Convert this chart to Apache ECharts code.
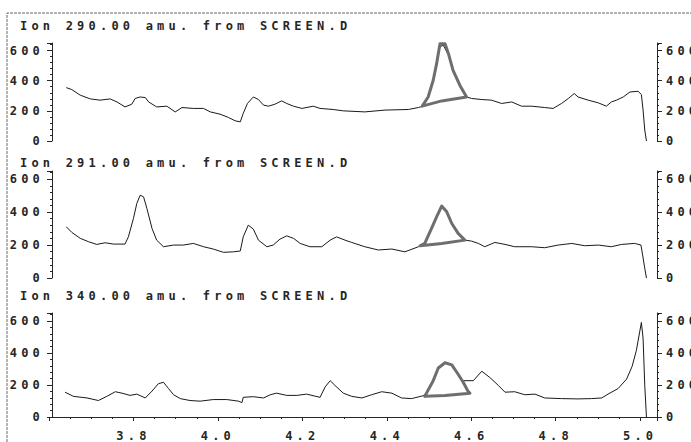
<!DOCTYPE html>
<html>
<head>
<meta charset="utf-8">
<script src="https://cdn.jsdelivr.net/npm/echarts@6/dist/echarts.min.js"></script>
<style>
  html, body { margin: 0; padding: 0; background: #fff; }
  #main { width: 691px; height: 442px; }
  /* dot-matrix printer look: wide letter spacing on every label */
  #main text { letter-spacing: 4.2px; }
</style>
</head>
<body>
<div id="main"></div>
<script>
// retention time (min) and abundance
const titles = ['Ion 290.00 amu. from SCREEN.D', 'Ion 291.00 amu. from SCREEN.D', 'Ion 340.00 amu. from SCREEN.D'];
const xTicks = [3.8, 4.0, 4.2, 4.4, 4.6, 4.8, 5.0];
const yTicks = [0, 200, 400, 600];

const time290 = [3.641,3.654,3.674,3.698,3.721,3.745,3.761,3.780,3.796,3.804,3.816,3.828,3.836,3.855,3.879,3.899,3.915,3.942,3.966,3.982,
  4.005,4.025,4.041,4.053,4.060,4.070,4.084,4.096,4.108,4.120,4.135,4.151,4.163,4.179,4.199,4.226,4.242,4.273,4.297,4.348,
  4.396,4.451,4.475,4.486,4.498,4.510,4.518,4.526,4.534,4.546,4.557,4.573,4.589,4.601,4.625,4.648,4.672,4.696,4.719,4.743,
  4.774,4.794,4.814,4.830,4.844,4.853,4.877,4.901,4.920,4.932,4.944,4.960,4.976,4.995,5.003,5.007,5.011,5.015];
const abund290 = [354,341,304,279,271,279,259,226,244,282,292,288,259,226,231,193,222,216,216,193,
  178,156,134,127,183,249,292,275,238,231,244,266,249,231,216,231,216,209,200,193,
  205,209,222,231,292,403,513,625,635,570,469,370,292,282,275,271,249,259,231,231,
  222,216,249,282,315,292,271,253,231,259,271,292,325,330,308,205,73,0];

const time291 = [3.641,3.654,3.674,3.694,3.713,3.733,3.753,3.780,3.788,3.800,3.808,3.816,3.824,3.832,3.844,3.855,3.871,3.895,3.918,3.942,
  3.966,3.989,4.013,4.037,4.053,4.060,4.072,4.084,4.096,4.116,4.131,4.147,4.163,4.179,4.195,4.218,4.246,4.266,4.281,4.301,
  4.317,4.348,4.380,4.412,4.443,4.475,4.490,4.506,4.518,4.530,4.542,4.554,4.569,4.585,4.601,4.617,4.632,4.656,4.680,4.703,
  4.743,4.774,4.806,4.838,4.869,4.901,4.932,4.956,4.987,5.002,5.006,5.011,5.015];
const abund291 = [311,277,241,220,204,214,206,206,250,362,453,503,493,421,301,230,190,200,200,210,
  190,176,156,159,164,250,321,297,230,190,200,236,256,241,210,190,190,230,250,230,
  216,190,170,176,159,190,210,301,371,432,402,331,271,230,224,210,190,216,204,190,
  190,184,200,210,196,200,190,204,210,200,139,59,0];

const time340 = [3.638,3.658,3.690,3.717,3.737,3.757,3.773,3.792,3.808,3.828,3.844,3.859,3.871,3.883,3.895,3.911,3.934,3.958,3.989,4.021,
  4.049,4.057,4.060,4.084,4.108,4.124,4.139,4.163,4.187,4.210,4.242,4.254,4.266,4.277,4.297,4.317,4.341,4.364,4.388,4.412,
  4.435,4.459,4.486,4.494,4.510,4.522,4.538,4.554,4.569,4.581,4.605,4.625,4.644,4.664,4.680,4.703,4.727,4.751,4.774,4.814,
  4.853,4.885,4.909,4.924,4.948,4.968,4.981,4.991,4.999,5.003,5.007,5.011,5.015];
const abund340 = [155,129,119,103,129,158,149,135,143,119,162,208,217,178,139,115,103,99,109,109,
  99,90,123,127,119,139,149,135,135,143,123,188,227,198,149,129,119,139,158,149,
  119,115,133,149,227,306,339,326,267,227,227,286,247,198,155,158,139,143,119,115,
  113,115,119,143,178,237,316,414,532,591,493,198,0];

// hand-drawn peak outlines (pencil marks on the printout)
const mark290Time = [4.484,4.498,4.510,4.518,4.526,4.538,4.546,4.557,4.573,4.589,4.530,4.484];
const mark290Abund = [231,292,403,513,645,645,579,469,370,292,266,231];
const mark291Time = [4.479,4.490,4.506,4.518,4.530,4.542,4.554,4.569,4.585,4.530,4.479];
const mark291Abund = [196,210,301,371,437,402,331,271,230,210,196];
const mark340Time = [4.490,4.494,4.510,4.522,4.538,4.554,4.569,4.581,4.593,4.597,4.538,4.490];
const mark340Abund = [129,149,227,306,339,326,267,217,158,149,135,129];

const traces = [[time290, abund290], [time291, abund291], [time340, abund340]];
const marks = [[mark290Time, mark290Abund], [mark291Time, mark291Abund], [mark340Time, mark340Abund]];

const font = 'DejaVu Sans Mono';
const ink = '#262626';
const txt = {fontFamily: font, fontSize: 12, fontWeight: 'bold', color: ink};

// panel boxes
const grids = [
  {left: 49, right: 34, top: 43, height: 98},
  {left: 49, right: 34, top: 171, height: 107},
  {left: 49, right: 34, top: 313, height: 111}
];
const titleTops = [20, 157, 290];

const zip = (xs, ys) => xs.map((x, i) => [x, ys[i]]);

const xAxis = grids.map((g, gi) => {
  const bottom = gi === 2;
  return {
    type: 'value', gridIndex: gi, min: 3.6, max: 5.04, interval: 0.2,
    splitLine: {show: false},
    axisLine: {show: bottom, onZero: false, lineStyle: {color: ink, width: 1}},
    axisTick: {show: bottom, length: 4, lineStyle: {color: ink}},
    minorTick: {show: bottom, splitNumber: 4, length: 2, lineStyle: {color: ink}},
    axisLabel: {
      show: bottom, margin: 13, ...txt,
      formatter: v => xTicks.some(t => Math.abs(t - v) < 1e-6) ? v.toFixed(1) : ''
    }
  };
});

const yAxis = [];
grids.forEach((g, gi) => {
  ['left', 'right'].forEach(pos => {
    yAxis.push({
      type: 'value', gridIndex: gi, position: pos, min: 0, max: 650, interval: 200,
      offset: pos === 'left' ? -3 : 0,
      splitLine: {show: false},
      axisLine: {show: true, lineStyle: {color: ink, width: 1}},
      axisTick: {show: true, length: 5, lineStyle: {color: ink}},
      minorTick: {show: true, splitNumber: 5, length: 2, lineStyle: {color: ink}},
      axisLabel: {
        margin: pos === 'left' ? 8 : 9, ...txt,
        formatter: v => yTicks.indexOf(v) >= 0 ? String(v) : ''
      }
    });
  });
});

const series = [];
traces.forEach((tr, gi) => {
  series.push({
    type: 'line', xAxisIndex: gi, yAxisIndex: gi * 2,
    data: zip(tr[0], tr[1]), showSymbol: false, clip: false,
    lineStyle: {color: '#1a1a1a', width: 1}, z: 2
  });
});
marks.forEach((mk, gi) => {
  series.push({
    type: 'line', xAxisIndex: gi, yAxisIndex: gi * 2,
    data: zip(mk[0], mk[1]), showSymbol: false, clip: false,
    lineStyle: {color: '#6e6e6e', width: 3, join: 'round', cap: 'round'}, z: 3
  });
});

const option = {
  animation: false,
  backgroundColor: '#fff',
  title: titles.map((t, i) => ({
    text: t, left: 20, top: titleTops[i], padding: 0,
    textStyle: {...txt}
  })),
  grid: grids,
  xAxis: xAxis,
  yAxis: yAxis,
  series: series,
  graphic: [{
    type: 'polyline', silent: true,
    shape: {points: [[7, 442], [7, 13], [691, 13]]},
    style: {stroke: '#666', lineWidth: 1, fill: null, lineDash: [3, 1]}
  }]
};

const chart = echarts.init(document.getElementById('main'), null, {renderer: 'svg'});
chart.setOption(option);
</script>
</body>
</html>
